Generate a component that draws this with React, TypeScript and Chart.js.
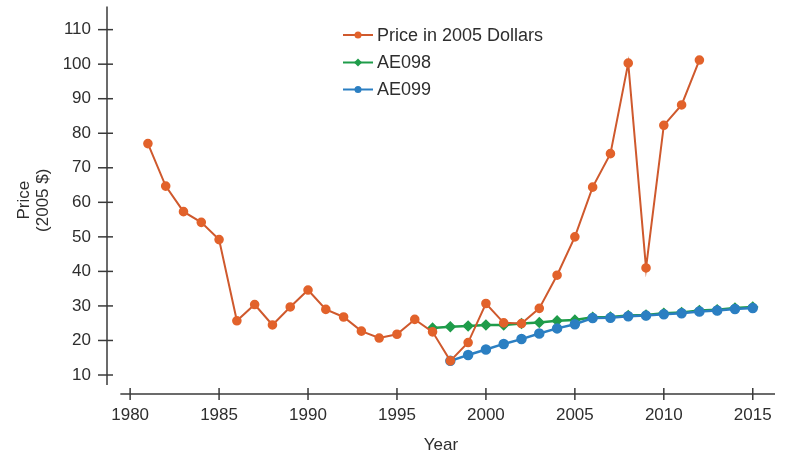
import React, { useEffect, useRef } from "react";
import { Chart, registerables } from "chart.js";

Chart.register(...registerables);

const years = [1981,1982,1983,1984,1985,1986,1987,1988,1989,1990,1991,1992,1993,1994,1995,1996,1997,1998,1999,2000,2001,2002,2003,2004,2005,2006,2007,2008,2009,2010,2011,2012];
const pricePoints = [77.0,64.7,57.3,54.2,49.2,25.7,30.4,24.5,29.7,34.6,29.0,26.8,22.7,20.7,21.8,26.1,22.5,14.1,19.4,30.7,25.1,24.9,29.3,38.9,50.0,64.4,74.1,100.3,41.0,82.3,88.2,101.2];

const ae098Years = [1997,1998,1999,2000,2001,2002,2003,2004,2005,2006,2007,2008,2009,2010,2011,2012,2013,2014,2015];
const ae098Values = [23.6,24.0,24.2,24.5,24.5,24.9,25.2,25.7,25.9,26.7,26.8,27.2,27.4,27.9,28.1,28.7,28.9,29.4,29.7];

const ae099Years = [1998,1999,2000,2001,2002,2003,2004,2005,2006,2007,2008,2009,2010,2011,2012,2013,2014,2015];
const ae099Values = [14.1,15.8,17.4,19.0,20.4,22.0,23.5,24.7,26.5,26.6,27.0,27.2,27.6,27.9,28.4,28.7,29.1,29.4];

const xTicks = [1980,1985,1990,1995,2000,2005,2010,2015];
const yTicks = [10,20,30,40,50,60,70,80,90,100,110];

const FONT = "'Liberation Sans', Arial, Helvetica, sans-serif";
const TEXT = "#2e2e2e";
const AXIS = "#3a3a3a";

const ORANGE = "#E2622B";
const ORANGE_LINE = "#CF592D";
const GREEN = "#1F9C4A";
const BLUE = "#2B7FC2";

const toXY = (xs: number[], ys: number[]) => xs.map((x, i) => ({ x, y: ys[i] }));

const axisPlugin = {
  id: "offsetAxes",
  afterDraw(chart: any) {
    const { ctx, scales } = chart;
    const xs = scales.x;
    const ys = scales.y;
    ctx.save();
    ctx.strokeStyle = AXIS;
    ctx.lineWidth = 1.5;
    const yl = chart.chartArea.left;
    ctx.beginPath();
    ctx.moveTo(yl, ys.getPixelForValue(ys.max));
    ctx.lineTo(yl, ys.getPixelForValue(7.1));
    ctx.stroke();
    yTicks.forEach((v) => {
      const p = ys.getPixelForValue(v);
      ctx.beginPath();
      ctx.moveTo(yl - 9, p);
      ctx.lineTo(yl + 6, p);
      ctx.stroke();
    });
    const xb = chart.chartArea.bottom;
    ctx.beginPath();
    ctx.moveTo(xs.getPixelForValue(1979.45), xb);
    ctx.lineTo(xs.getPixelForValue(xs.max), xb);
    ctx.stroke();
    xTicks.forEach((v) => {
      const p = xs.getPixelForValue(v);
      ctx.beginPath();
      ctx.moveTo(p, xb - 6);
      ctx.lineTo(p, xb + 6);
      ctx.stroke();
    });
    ctx.restore();
  },
};

const legendPlugin = {
  id: "inlineLegend",
  afterDraw(chart: any) {
    const { ctx } = chart;
    const x0 = 343;
    const rows = [35, 62.5, 89.5];
    ctx.save();
    chart.data.datasets.forEach((ds: any, i: number) => {
      const y = rows[i];
      ctx.strokeStyle = ds.borderColor;
      ctx.lineWidth = 2;
      ctx.beginPath();
      ctx.moveTo(x0, y);
      ctx.lineTo(x0 + 30, y);
      ctx.stroke();
      ctx.fillStyle = ds.pointBackgroundColor;
      ctx.beginPath();
      if (ds.pointStyle === "rectRot") {
        const r = 4;
        ctx.moveTo(x0 + 15, y - r);
        ctx.lineTo(x0 + 15 + r, y);
        ctx.lineTo(x0 + 15, y + r);
        ctx.lineTo(x0 + 15 - r, y);
        ctx.closePath();
      } else {
        ctx.arc(x0 + 15, y, 3.5, 0, Math.PI * 2);
      }
      ctx.fill();
      ctx.fillStyle = TEXT;
      ctx.font = `18px ${FONT}`;
      ctx.textBaseline = "middle";
      ctx.textAlign = "left";
      ctx.fillText(ds.label, x0 + 34, y + 1);
    });
    ctx.restore();
  },
};

export default function App() {
  const ref = useRef<HTMLCanvasElement | null>(null);
  useEffect(() => {
    if (!ref.current) return;
    const chart = new Chart(ref.current, {
      type: "line",
      data: {
        datasets: [
          {
            label: "Price in 2005 Dollars",
            data: toXY(years, pricePoints),
            borderColor: ORANGE_LINE,
            backgroundColor: ORANGE,
            pointBackgroundColor: ORANGE,
            pointBorderColor: ORANGE,
            pointRadius: 3.8,
            pointStyle: "circle",
            borderWidth: 2,
            tension: 0,
            order: 0,
          },
          {
            label: "AE098",
            data: toXY(ae098Years, ae098Values),
            borderColor: GREEN,
            backgroundColor: GREEN,
            pointBackgroundColor: GREEN,
            pointBorderColor: GREEN,
            pointRadius: 4,
            pointStyle: "rectRot",
            borderWidth: 2.5,
            tension: 0,
            order: 2,
          },
          {
            label: "AE099",
            data: toXY(ae099Years, ae099Values),
            borderColor: BLUE,
            backgroundColor: BLUE,
            pointBackgroundColor: BLUE,
            pointBorderColor: BLUE,
            pointRadius: 4,
            pointStyle: "circle",
            borderWidth: 2.5,
            tension: 0,
            order: 1,
          },
        ],
      },
      options: {
        responsive: false,
        animation: false,
        layout: { padding: { left: 0, right: 12, top: 6, bottom: 0 } },
        plugins: {
          legend: { display: false },
          tooltip: { enabled: false },
        },
        scales: {
          x: {
            type: "linear",
            min: 1978.7,
            max: 2016.25,
            border: { display: false },
            grid: { display: false, drawTicks: false },
            afterBuildTicks: (s: any) => {
              s.ticks = xTicks.map((v) => ({ value: v }));
            },
            afterFit: (s: any) => {
              s.height = 61;
              s.paddingLeft = 0;
              s.paddingRight = 0;
            },
            ticks: {
              padding: 11,
              color: TEXT,
              font: { family: FONT, size: 17 },
              callback: (v: any) => String(v),
              maxRotation: 0,
              autoSkip: false,
            },
            title: {
              display: true,
              text: "Year",
              color: TEXT,
              font: { family: FONT, size: 17, lineHeight: 1.1 },
              padding: { top: 0, bottom: 0 },
            },
          },
          y: {
            type: "linear",
            min: 4.5,
            max: 116.7,
            border: { display: false },
            grid: { display: false, drawTicks: false },
            afterBuildTicks: (s: any) => {
              s.ticks = yTicks.map((v) => ({ value: v }));
            },
            afterFit: (s: any) => {
              s.width = 107;
              s.paddingTop = 0;
              s.paddingBottom = 0;
            },
            ticks: {
              padding: 16,
              color: TEXT,
              font: { family: FONT, size: 17 },
              callback: (v: any) => String(v),
              autoSkip: false,
            },
            title: {
              display: true,
              text: ["Price", "(2005 $)"],
              color: TEXT,
              font: { family: FONT, size: 17, lineHeight: 1.1 },
              padding: { top: 15, bottom: 0 },
            },
          },
        },
      },
      plugins: [axisPlugin, legendPlugin],
    });
    return () => chart.destroy();
  }, []);
  return (
    <div style={{ position: "absolute", left: 0, top: 0, width: 787, height: 455, background: "#ffffff" }}>
      <canvas ref={ref} width={787} height={455} style={{ display: "block" }} />
    </div>
  );
}
